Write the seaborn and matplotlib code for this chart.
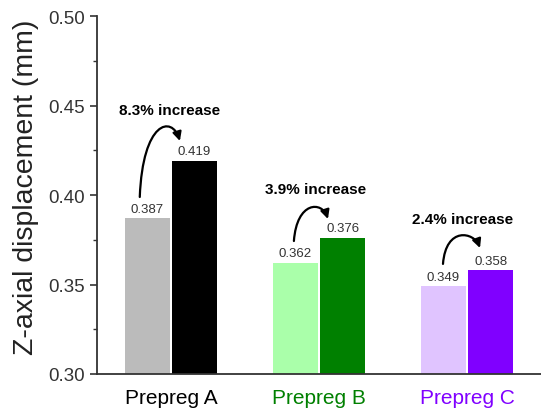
import numpy as np
import pandas as pd
import matplotlib
matplotlib.use("Agg")
import matplotlib.pyplot as plt
import matplotlib.ticker as mticker
from matplotlib.patches import FancyArrowPatch
from matplotlib.path import Path
import seaborn as sns

# Data
prepregs = ["Prepreg A", "Prepreg B", "Prepreg C"]
before = [0.387, 0.362, 0.349]
after = [0.419, 0.376, 0.358]
increase_labels = ["8.3% increase", "3.9% increase", "2.4% increase"]

light_colors = ["#BBBBBB", "#AAFFAA", "#E0C4FF"]
dark_colors = ["#000000", "#008000", "#8000FF"]
tick_colors = ["#000000", "#008000", "#8000FF"]

# annotation placement (data coords)
text_pos = [(-0.01, 0.4475), (0.975, 0.4034), (1.97, 0.3866)]
arrow_start = [(-0.21, 0.3989), (0.831, 0.3743), (1.838, 0.3615)]
arrow_end = [(0.061, 0.4302), (1.061, 0.3866), (2.088, 0.3704)]
ctrl1_off = [(0.02, 0.0425), (0.02, 0.0224), (0.02, 0.0212)]
ctrl2_off = [(-0.054, 0.0145), (-0.04, 0.0101), (-0.04, 0.0089)]

sns.set_theme(style="ticks")
plt.rcParams["font.family"] = ["Liberation Sans", "DejaVu Sans"]

df = pd.DataFrame({
    "prepreg": prepregs * 2,
    "cond": ["before"] * 3 + ["after"] * 3,
    "disp": before + after,
})

fig = plt.figure(figsize=(5.41, 4.10), dpi=100)
ax = fig.add_axes([0.179, 0.0854, 0.821, 0.873])

sns.barplot(data=df, x="prepreg", y="disp", hue="cond", hue_order=["before", "after"],
            width=0.64, gap=0.05, legend=False, ax=ax, errorbar=None)

bars = ax.patches
for i, p in enumerate(bars[:3]):
    p.set_facecolor(light_colors[i])
    p.set_edgecolor("none")
for i, p in enumerate(bars[3:6]):
    p.set_facecolor(dark_colors[i])
    p.set_edgecolor("none")

# value labels
for p, val in zip(bars[:6], before + after):
    ax.text(p.get_x() + p.get_width() / 2, val + 0.002, f"{val:.3f}",
            ha="center", va="bottom", fontsize=9.5, color="#333333")

# curved arrows (cubic bezier) + text
for i in range(3):
    s, e = arrow_start[i], arrow_end[i]
    c1 = (s[0] + ctrl1_off[i][0], s[1] + ctrl1_off[i][1])
    c2 = (e[0] + ctrl2_off[i][0], e[1] + ctrl2_off[i][1])
    path = Path([s, c1, c2, e], [Path.MOVETO, Path.CURVE4, Path.CURVE4, Path.CURVE4])
    arr = FancyArrowPatch(path=path, arrowstyle="-|>", mutation_scale=13,
                          lw=1.6, color="black", transform=ax.transData)
    ax.add_patch(arr)
    ax.text(text_pos[i][0], text_pos[i][1], increase_labels[i], ha="center",
            va="center", fontsize=11, fontweight="bold", color="black")

ax.set_xlim(-0.5, 2.5)
ax.set_ylim(0.30, 0.50)
ax.yaxis.set_major_locator(mticker.MultipleLocator(0.05))
ax.yaxis.set_minor_locator(mticker.MultipleLocator(0.025))
ax.yaxis.set_major_formatter(mticker.FormatStrFormatter("%.2f"))
ax.tick_params(axis="y", which="major", direction="out", length=5, width=1.2,
               labelsize=13.5, colors="#333333", labelcolor="#333333")
ax.tick_params(axis="y", which="minor", direction="out", length=3, width=1.0,
               colors="#333333")
ax.tick_params(axis="x", length=0, labelsize=15, pad=10)
for lab, c in zip(ax.get_xticklabels(), tick_colors):
    lab.set_color(c)

ax.set_xlabel("")
ax.set_ylabel("Z-axial displacement (mm)", fontsize=20.5, color="#222222")
ax.yaxis.set_label_coords(-0.131, 0.525)

sns.despine(ax=ax)
for s in ["left", "bottom"]:
    ax.spines[s].set_linewidth(1.3)
    ax.spines[s].set_color("#333333")

fig.savefig("out.png", dpi=100)
